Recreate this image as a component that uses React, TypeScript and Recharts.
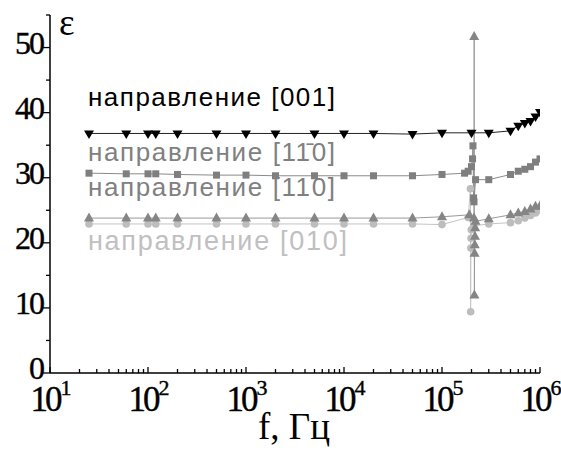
import React from "react";
import { ComposedChart, Line, XAxis, YAxis, Customized } from "recharts";

// frequencies (Hz)
const freqLow = [25, 60, 100, 120, 200, 500, 1000, 2000, 5000, 1e4, 2e4, 5e4, 1e5];
const freqHigh = [3e5, 5e5, 6e5, 7e5, 8e5, 9e5, 1e6];

// direction [001] – black down triangles
const f001 = [...freqLow, 2e5, ...freqHigh];
const e001 = [36.8, 36.8, 36.8, 36.8, 36.8, 36.8, 36.8, 36.8, 36.8, 36.8, 36.8, 36.7, 36.9, 36.9, 36.9, 37.2, 38.0, 38.4, 38.7, 39.4, 40.1];

// direction [1-10] – dark grey squares
const f1m10 = [...freqLow, 1.7e5, 1.85e5, 2.0e5, 2.05e5, 2.07e5, 2.1e5, 2.12e5, 2.2e5, ...freqHigh];
const e1m10 = [30.7, 30.6, 30.6, 30.6, 30.5, 30.4, 30.4, 30.3, 30.3, 30.3, 30.3, 30.3, 30.5, 30.7, 31.0, 31.7, 32.9, 34.9, 26.9, 26.3, 29.7, 29.7, 30.5, 31.0, 31.3, 31.7, 32.4, 32.9];

// direction [110] – grey up triangles
const f110 = [...freqLow, 1.9e5, 2.12e5, 2.13e5, 2.14e5, 2.15e5, 2.16e5, 2.17e5, 2.18e5, 2.2e5, ...freqHigh];
const e110 = [23.8, 23.8, 23.8, 23.8, 23.8, 23.8, 23.8, 23.8, 23.8, 23.8, 23.8, 23.8, 24.0, 24.3, 23.8, 51.7, 12.0, 18.4, 19.7, 21.0, 22.3, 23.3, 23.7, 24.3, 24.6, 24.8, 25.2, 25.6, 25.7];

// direction [010] – light grey circles
const f010 = [...freqLow, 1.85e5, 1.95e5, 1.96e5, 1.97e5, 1.98e5, 1.99e5, 2.1e5, ...freqHigh];
const e010 = [22.9, 22.9, 22.9, 22.9, 22.9, 22.9, 22.9, 22.9, 22.9, 22.9, 22.9, 22.9, 22.8, 23.9, 28.3, 9.4, 19.2, 20.7, 22.0, 22.6, 22.9, 23.1, 23.4, 23.8, 24.2, 24.6, 25.0];

const xTicks = [
  10, 20, 30, 40, 50, 60, 70, 80, 90,
  100, 200, 300, 400, 500, 600, 700, 800, 900,
  1e3, 2e3, 3e3, 4e3, 5e3, 6e3, 7e3, 8e3, 9e3,
  1e4, 2e4, 3e4, 4e4, 5e4, 6e4, 7e4, 8e4, 9e4,
  1e5, 2e5, 3e5, 4e5, 5e5, 6e5, 7e5, 8e5, 9e5,
  1e6,
];
const yTicks = [0, 5, 10, 15, 20, 25, 30, 35, 40, 45, 50, 55];
const yLabels = [0, 10, 20, 30, 40, 50];

const zip = (fs: number[], es: number[]) => fs.map((f, i) => ({ f, e: es[i] }));
const d001 = zip(f001, e001);
const d1m10 = zip(f1m10, e1m10);
const d110 = zip(f110, e110);
const d010 = zip(f010, e010);

const SERIF = "'Liberation Serif', 'Times New Roman', serif";
const SANS = "'Liberation Sans', Arial, sans-serif";

const XTick = (props: any) => {
  const { x, y, payload } = props;
  const v = payload.value;
  const lg = Math.log10(v);
  const e = Math.round(lg);
  const major = Math.abs(lg - e) < 1e-6;
  return (
    <g>
      <line x1={x} x2={x} y1={y} y2={y - (major ? 6 : 4)} stroke="#000" strokeWidth={1.3} />
      {major && (
        <text x={x + 1} y={y + 38} textAnchor="middle" fontFamily={SERIF} fontSize={35} letterSpacing={-3} fill="#000" stroke="#000" strokeWidth={0.4}>
          10
          <tspan dx={1} dy={-16} fontSize={22} letterSpacing={0}>{e}</tspan>
        </text>
      )}
    </g>
  );
};

const YTick = (props: any) => {
  const { x, y, payload } = props;
  const v = payload.value;
  const major = yLabels.includes(v);
  return (
    <g>
      <line x1={x - (major ? 7 : 4)} x2={x} y1={y} y2={y} stroke="#000" strokeWidth={1.3} />
      {major && (
        <text x={x - 7} y={y + 6} textAnchor="end" fontFamily={SERIF} fontSize={32} letterSpacing={-2} fill="#000" stroke="#000" strokeWidth={0.4}>{v}</text>
      )}
    </g>
  );
};

const downTri = (color: string) => (p: any) => {
  const { cx, cy, index } = p;
  if (cx == null || cy == null) return <g key={`d${index}`} />;
  return <path key={`d${index}`} d={`M${cx - 5},${cy - 3}L${cx + 5},${cy - 3}L${cx},${cy + 5.5}Z`} fill={color} />;
};
const upTri = (color: string) => (p: any) => {
  const { cx, cy, index } = p;
  if (cx == null || cy == null) return <g key={`u${index}`} />;
  return <path key={`u${index}`} d={`M${cx - 5},${cy + 3.5}L${cx + 5},${cy + 3.5}L${cx},${cy - 5.5}Z`} fill={color} />;
};
const square = (color: string) => (p: any) => {
  const { cx, cy, index } = p;
  if (cx == null || cy == null) return <g key={`s${index}`} />;
  return <rect key={`s${index}`} x={cx - 3.5} y={cy - 3.5} width={7} height={7} fill={color} />;
};
const circle = (color: string) => (p: any) => {
  const { cx, cy, index } = p;
  if (cx == null || cy == null) return <g key={`c${index}`} />;
  return <circle key={`c${index}`} cx={cx} cy={cy} r={3.8} fill={color} />;
};

const Annotations = () => (
  <g>
    <text x={59} y={35} fontFamily={SERIF} fontSize={37} fill="#000">ε</text>
    <text x={88} y={106} fontFamily={SANS} fontSize={26} textLength={247} lengthAdjust="spacing" fill="#000">направление [001]</text>
    <text x={88} y={161} fontFamily={SANS} fontSize={26} textLength={247} lengthAdjust="spacing" fill="#808080">направление [11̄0]</text>
    <text x={88} y={196} fontFamily={SANS} fontSize={26} textLength={247} lengthAdjust="spacing" fill="#808080">направление [110]</text>
    <text x={88} y={250} fontFamily={SANS} fontSize={27} textLength={259} lengthAdjust="spacing" fill="#c0c0c0">направление [010]</text>
    <text x={294} y={439} textAnchor="middle" fontFamily={SERIF} fontSize={37} fill="#000">f, Гц</text>
  </g>
);

export default function App() {
  return (
    <div style={{ position: "absolute", left: 0, top: 0, background: "#fff" }}>
      <ComposedChart width={561} height={450} margin={{ top: 15, right: 21, bottom: 0, left: 0 }}>
        <XAxis
          type="number"
          dataKey="f"
          scale="log"
          domain={[10, 1e6]}
          ticks={xTicks}
          interval={0}
          allowDataOverflow
          height={77}
          tickSize={0}
          tickMargin={0}
          tickLine={false}
          tick={<XTick />}
          axisLine={{ stroke: "#000", strokeWidth: 1.5 }}
        />
        <YAxis
          type="number"
          dataKey="e"
          domain={[0, 55]}
          ticks={yTicks}
          interval={0}
          allowDataOverflow
          width={50}
          tickSize={0}
          tickMargin={0}
          tickLine={false}
          tick={<YTick />}
          axisLine={{ stroke: "#000", strokeWidth: 1.5 }}
        />
        <Line data={d010} dataKey="e" type="linear" stroke="#c4c4c4" strokeWidth={1} dot={circle("#bdbdbd")} activeDot={false} isAnimationActive={false} />
        <Line data={d110} dataKey="e" type="linear" stroke="#9a9a9a" strokeWidth={1} dot={upTri("#858585")} activeDot={false} isAnimationActive={false} />
        <Line data={d1m10} dataKey="e" type="linear" stroke="#8a8a8a" strokeWidth={1} dot={square("#7f7f7f")} activeDot={false} isAnimationActive={false} />
        <Line data={d001} dataKey="e" type="linear" stroke="#222" strokeWidth={1} dot={downTri("#000")} activeDot={false} isAnimationActive={false} />
        <Customized component={Annotations} />
      </ComposedChart>
    </div>
  );
}
